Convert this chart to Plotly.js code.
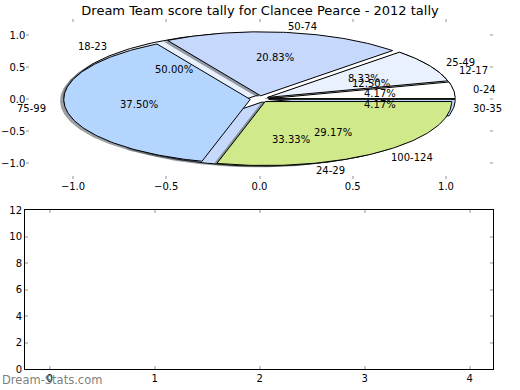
<!DOCTYPE html>
<html>
<head>
<meta charset="utf-8">
<script src="https://cdn.plot.ly/plotly-3.0.1.min.js"></script>
<style>html,body{margin:0;padding:0;background:#fff;}#chart{width:520px;height:390px;}</style>
</head>
<body>
<div id="chart"></div>
<script>
// ---- data ----
const titleText = 'Dream Team score tally for Clancee Pearce - 2012 tally';
const scoreRanges = ['0-24', '25-49', '50-74', '75-99', '100-124'];
const scoreCounts = [1, 2, 5, 9, 7];
const ageRanges = ['12-17', '18-23', '24-29', '30-35'];
const ageCounts = [3, 12, 8, 1];
const sliceColors = ['#ffffff', '#e9f1fe', '#c6d9fc', '#b4d5fe', '#cfe98b'];
const bottomXTicks = [0, 1, 2, 3, 4];
const bottomYTicks = [0, 2, 4, 6, 8, 10, 12];
const watermark = 'Dream-Stats.com';

// ---- style ----
const FONT = 'DejaVu Sans';
const explode = 0.05;
const shadowOffset = [-0.02, -0.02];
const tickGray = '#c8c8c8';

function hexToRgb(h) {
  return [parseInt(h.slice(1, 3), 16), parseInt(h.slice(3, 5), 16), parseInt(h.slice(5, 7), 16)];
}

function buildPie(labels, counts) {
  const total = counts.reduce((a, b) => a + b, 0);
  let theta = 0;
  const wedges = [];
  counts.forEach((c, i) => {
    const frac = c / total;
    const t1 = theta, t2 = theta + 360 * frac;
    const tm = (t1 + t2) / 2 * Math.PI / 180;
    const cx = explode * Math.cos(tm), cy = explode * Math.sin(tm);
    const xs = [cx], ys = [cy];
    const n = Math.max(2, Math.ceil(t2 - t1));
    for (let k = 0; k <= n; k++) {
      const a = (t1 + (t2 - t1) * k / n) * Math.PI / 180;
      xs.push(cx + Math.cos(a));
      ys.push(cy + Math.sin(a));
    }
    xs.push(cx); ys.push(cy);
    wedges.push({xs, ys, color: sliceColors[i % sliceColors.length], label: labels[i],
      pct: (frac * 100).toFixed(2) + '%', tm, cx, cy});
    theta = t2;
  });
  return wedges;
}

const pieA = buildPie(scoreRanges, scoreCounts);
const pieB = buildPie(ageRanges, ageCounts);

const traces = [];
function addShadows(wedges) {
  wedges.forEach(w => {
    const rgb = hexToRgb(w.color).map(v => Math.round(v * 0.3));
    traces.push({type: 'scatter', mode: 'lines', xaxis: 'x', yaxis: 'y',
      x: w.xs.map(v => v + shadowOffset[0]), y: w.ys.map(v => v + shadowOffset[1]),
      fill: 'toself', fillcolor: 'rgba(' + rgb.join(',') + ',0.5)',
      line: {width: 0, color: 'rgba(0,0,0,0)'}, hoverinfo: 'skip', showlegend: false});
  });
}
function addWedges(wedges) {
  wedges.forEach(w => {
    traces.push({type: 'scatter', mode: 'lines', xaxis: 'x', yaxis: 'y',
      x: w.xs, y: w.ys, fill: 'toself', fillcolor: w.color,
      line: {width: 1, color: '#000000'}, hoverinfo: 'skip', showlegend: false});
  });
}
addShadows(pieB);
addWedges(pieB);
addShadows(pieA);
addWedges(pieA);
// empty lower axes
traces.push({type: 'scatter', mode: 'markers', xaxis: 'x2', yaxis: 'y2', x: [], y: [], showlegend: false});

const annotations = [];
function addLabels(wedges) {
  wedges.forEach(w => {
    const lx = w.cx + 1.1 * Math.cos(w.tm), ly = w.cy + 1.1 * Math.sin(w.tm);
    annotations.push({xref: 'x', yref: 'y', x: lx, y: ly, text: w.label, showarrow: false,
      xanchor: lx > 0 ? 'left' : 'right', yanchor: 'middle', borderpad: 0,
      font: {family: FONT, size: 10, color: '#000'}});
    const px = w.cx + 0.6 * Math.cos(w.tm), py = w.cy + 0.6 * Math.sin(w.tm);
    annotations.push({xref: 'x', yref: 'y', x: px, y: py, text: w.pct, showarrow: false,
      xanchor: 'center', yanchor: 'middle', borderpad: 0,
      font: {family: FONT, size: 10, color: '#000'}});
  });
}
addLabels(pieA);
addLabels(pieB);
annotations.push({xref: 'paper', yref: 'paper', x: 0, y: 1 - 380 / 390, xanchor: 'left', yanchor: 'middle',
  text: watermark, showarrow: false, font: {family: FONT, size: 11.5, color: 'rgba(110,110,110,0.9)'}});

const W = 520, H = 390;
const commonAxis = {ticks: 'inside', ticklen: 3, tickwidth: 2, tickcolor: tickGray,
  showgrid: false, zeroline: false, tickfont: {family: FONT, size: 10, color: '#000'}};

const layout = {
  width: W, height: H,
  margin: {l: 0, r: 0, t: 0, b: 0},
  paper_bgcolor: '#ffffff', plot_bgcolor: 'rgba(0,0,0,0)',
  showlegend: false,
  font: {family: FONT, size: 10, color: '#000'},
  title: {text: titleText, x: 0.5, xanchor: 'center', y: 1 - 10 / H, yanchor: 'middle',
    font: {family: FONT, size: 13, color: '#000'}},
  xaxis: Object.assign({}, commonAxis, {domain: [26.4 / W, 492.6 / W], range: [-1.25, 1.25],
    tick0: 0, dtick: 0.5, tickformat: '.1f', showline: false, mirror: 'ticks', anchor: 'y'}),
  yaxis: Object.assign({}, commonAxis, {domain: [1 - 179 / H, 1 - 19 / H], range: [-1.25, 1.25],
    tick0: 0, dtick: 0.5, tickformat: '.1f', showline: false, mirror: 'ticks', anchor: 'x'}),
  xaxis2: Object.assign({}, commonAxis, {domain: [25 / W, 493.3 / W], range: [-0.236, 4.224],
    tickvals: bottomXTicks, ticktext: bottomXTicks.map(String), showline: true, linecolor: '#000', linewidth: 1,
    mirror: 'ticks', anchor: 'y2'}),
  yaxis2: Object.assign({}, commonAxis, {domain: [1 - 369.3 / H, 1 - 210 / H], range: [0, 12],
    tickvals: bottomYTicks, ticktext: bottomYTicks.map(String), showline: true, linecolor: '#000', linewidth: 1,
    mirror: 'ticks', anchor: 'x2'}),
  annotations: annotations
};

Plotly.newPlot('chart', traces, layout, {staticPlot: true, displayModeBar: false});
</script>
</body>
</html>
